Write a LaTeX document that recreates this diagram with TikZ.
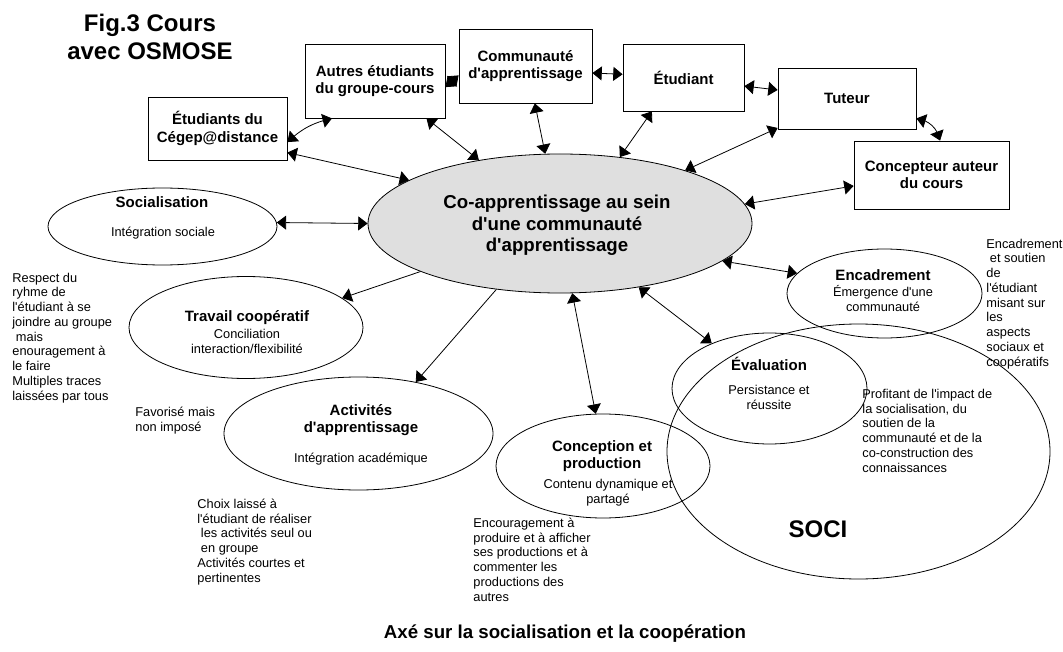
\documentclass[tikz,border=0pt]{standalone}
\usepackage{fontspec}
\setmainfont{Liberation Sans}
\usetikzlibrary{arrows.meta,shapes.geometric,bending}
\newcommand{\q}{\textquotesingle}

\begin{document}
\begin{tikzpicture}[x=0.75pt,y=-0.75pt,
  >={Triangle[length=7pt,width=10.5pt]},
  line width=0.6pt,
  box/.style={draw, rectangle, inner sep=0pt, align=center,
    font=\fontsize{11.25}{13.1}\selectfont\bfseries},
  oval/.style={draw, ellipse, inner sep=0pt},
  note/.style={font=\fontsize{9.6}{11.06}\selectfont, inner sep=0pt},
  noteL/.style={note, align=left, anchor=base west},
  noteC/.style={note, align=center, anchor=base},
  head/.style={font=\fontsize{11.25}{12.75}\selectfont\bfseries, inner sep=0pt, align=center, anchor=base},
  conn/.style={line width=0.6pt}
]
% page (multi-line nodes below are placed by the baseline of their last line)
\path[fill=white] (0,0) rectangle (1063,652);

% title
\node[font=\fontsize{18}{21}\selectfont\bfseries, align=center, anchor=base, inner sep=0pt]
  (title) at (150,60) {Fig.3 Cours\\avec OSMOSE};

% actor boxes
\node[box, minimum width=104.25pt, minimum height=47.25pt] (ceg) at (217.5,128.5) {Étudiants du\\Cégep@distance};
\node[box, minimum width=105pt, minimum height=55.5pt] (aut) at (375,81) {Autres étudiants\\du groupe-cours};
\node[box, minimum width=99.75pt, minimum height=55.5pt] (com) at (525.5,66) {Communauté\\d\q apprentissage};
\node[box, minimum width=90.75pt, minimum height=50.25pt] (etu) at (683.5,77.5) {Étudiant};
\node[box, minimum width=103.5pt, minimum height=45.75pt] (tut) at (847,98.5) {Tuteur};
\node[box, minimum width=116.25pt, minimum height=51pt] (con) at (931.5,175) {Concepteur auteur\\du cours};

% central ellipse
\node[oval, fill=gray!25, minimum width=288pt, minimum height=104.25pt] (C) at (560,223.5) {};
\node[font=\fontsize{14}{16.3}\selectfont\bfseries, align=center, anchor=base, inner sep=0pt]
  (Ctext) at (557,252) {Co-apprentissage au sein\\d\q une communauté\\d\q apprentissage};

% dimension ellipses
\node[oval, minimum width=171.75pt, minimum height=57.75pt] (soc) at (162.5,226.5) {};
\node[oval, minimum width=175.5pt, minimum height=76.5pt] (tra) at (246,327.5) {};
\node[oval, minimum width=201.75pt, minimum height=84.75pt] (act) at (358.5,433.5) {};
\node[oval, minimum width=160.5pt, minimum height=78pt] (cpt) at (603,466) {};
\node[oval, minimum width=146.25pt, minimum height=83.25pt] (eva) at (769.5,388.5) {};
\node[oval, minimum width=287.25pt, minimum height=191.25pt] (soci) at (858.5,451.5) {};
\node[oval, minimum width=146.25pt, minimum height=66.75pt] (enc) at (884.5,293.5) {};

% ellipse labels
\node[head] (socH) at (162,208) {Socialisation};
\node[noteC] (socT) at (163,237) {Intégration sociale};
\node[head] (traH) at (247,321) {Travail coopératif};
\node[noteC] (traT) at (247,353) {Conciliation\\interaction/flexibilité};
\node[head] (actH) at (361,432) {Activités\\d\q apprentissage};
\node[noteC] (actT) at (361,462) {Intégration académique};
\node[head] (cptH) at (602,468) {Conception et\\production};
\node[noteC] (cptT) at (608,503) {Contenu dynamique et\\partagé};
\node[head] (evaH) at (769,370) {Évaluation};
\node[noteC] (evaT) at (769,409) {Persistance et\\réussite};
\node[head] (encH) at (883,281) {Encadrement};
\node[noteC] (encT) at (883,311) {Émergence d\q une\\communauté};
\node[font=\fontsize{18}{21}\selectfont\bfseries, anchor=base, inner sep=0pt] (sociH) at (818,537) {SOCI};

% side notes
\node[noteL] (nLeft) at (12,400) {Respect du\\ryhme de\\l\q étudiant à se\\joindre au groupe\\\hspace*{0.28em}mais\\enouragement à\\le faire\\Multiples traces\\laissées par tous};
\node[noteL] (nFav) at (135,431) {Favorisé mais\\non imposé};
\node[noteL] (nChoix) at (197,582) {Choix laissé à\\l\q étudiant de réaliser\\\hspace*{0.28em}les activités seul ou\\\hspace*{0.28em}en groupe\\Activités courtes et\\pertinentes};
\node[noteL] (nEnc) at (473,601) {Encouragement à\\produire et à afficher\\ses productions et à\\commenter les\\productions des\\autres};
\node[noteL] (nProf) at (862,472) {Profitant de l\q impact de\\la socialisation, du\\soutien de la\\communauté et de la\\co-construction des\\connaissances};
\node[noteL] (nRight) at (986,366) {Encadrement\\\hspace*{0.28em}et soutien\\de\\l\q étudiant\\misant sur\\les\\aspects\\sociaux et\\coopératifs};

% caption
\node[font=\fontsize{14}{16}\selectfont\bfseries, anchor=base, inner sep=0pt] (axe) at (565,638) {Axé sur la socialisation et la coopération};

% connectors between actors
\draw[conn,<->] (ceg.349) to[bend left=15] (aut.221.4);
\draw[conn,<->] (aut.355.9) -- (com.188.6);
\draw[conn,<->] (com.354.8) -- (etu.177.6);
\draw[conn,<->] (etu.352.9) -- (tut.173);
\draw[conn,<->] (tut.344.2) to[bend left=35] (con.76);

% connectors actors - centre
\draw[conn,<->] (ceg.341.3) -- (C.164.6);
\draw[conn,<->] (aut.324.6) -- (C.142.6);
\draw[conn,<->] (com.284.4) -- (C.102.4);
\draw[conn,<->] (etu.227.7) -- (C.48.9);
\draw[conn,<->] (tut.203.8) -- (C.23.6);
\draw[conn,<->] (con.188.8) -- (C.6.7);

% connectors centre - dimensions
\draw[conn,<->] (C.180) -- (soc.2);
\draw[conn,->] (C.199.1) -- (tra.17.1);
\draw[conn,->] (C.226.6) -- (act.42.9);
\draw[conn,<->] (C.280.3) -- (cpt.98.4);
\draw[conn,<->] (C.321) -- (eva.142.9);
\draw[conn,<->] (C.347.7) -- (enc.167.4);
\end{tikzpicture}
\end{document}
